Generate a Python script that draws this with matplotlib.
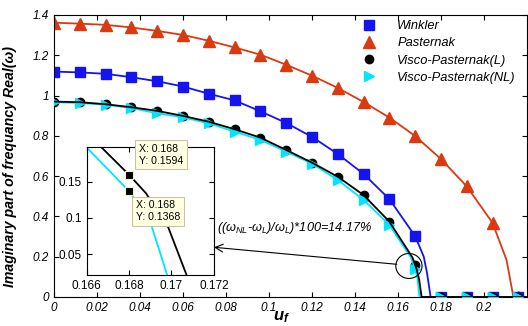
import numpy as np
import matplotlib
matplotlib.use('Agg')
import matplotlib.pyplot as plt
from matplotlib.patches import Ellipse
from matplotlib.lines import Line2D
from matplotlib.ticker import FuncFormatter

plt.rcParams['font.family'] = ['Liberation Sans', 'DejaVu Sans']
plt.rcParams['mathtext.fontset'] = 'custom'
plt.rcParams['mathtext.rm'] = 'Liberation Sans:italic'
plt.rcParams['mathtext.it'] = 'Liberation Sans:italic'
plt.rcParams['mathtext.bf'] = 'Liberation Sans:bold:italic'

# marker positions (u_f)
uf = [0.0, 0.012, 0.024, 0.036, 0.048, 0.060, 0.072, 0.084, 0.096, 0.108,
      0.120, 0.132, 0.144, 0.156, 0.168, 0.180, 0.192, 0.204, 0.216]

winkler = [1.119, 1.115, 1.108, 1.091, 1.071, 1.045, 1.009, 0.976, 0.922, 0.864,
           0.795, 0.710, 0.611, 0.486, 0.302, 0.0, 0.0, 0.0, 0.0]
pasternak = [1.362, 1.357, 1.351, 1.338, 1.321, 1.301, 1.272, 1.239, 1.203, 1.153,
             1.099, 1.038, 0.968, 0.891, 0.799, 0.685, 0.549, 0.368, 0.0]
visco_l = [0.970, 0.967, 0.957, 0.942, 0.924, 0.899, 0.870, 0.833, 0.791, 0.730,
           0.667, 0.597, 0.506, 0.374, 0.1594, 0.0, 0.0, 0.0, 0.0]
visco_nl = [0.967, 0.963, 0.955, 0.938, 0.912, 0.892, 0.862, 0.821, 0.780, 0.722,
            0.662, 0.581, 0.482, 0.358, 0.1368, 0.0, 0.0, 0.0, 0.0]

# extra points of the curves near the drop to zero
w_tail_x = [0.172, 0.1735, 0.1752, 0.22]
w_tail_y = [0.20, 0.12, 0.0, 0.0]
p_tail_x = [0.2105, 0.2137, 0.22]
p_tail_y = [0.184, 0.0, 0.0]
l_tail_x = [0.1667, 0.168, 0.1688, 0.16985, 0.171, 0.22]
l_tail_y = [0.197, 0.1594, 0.134, 0.0872, 0.0, 0.0]
nl_tail_x = [0.166, 0.168, 0.1690, 0.1698, 0.1700, 0.22]
nl_tail_y = [0.197, 0.1368, 0.095, 0.0215, 0.0, 0.0]

blue = '#1414f0'
red = '#d93a10'
cyan = '#00e5ff'


def curve(x, y, tx, ty):
    xs = [a for a in x if a < tx[0]] + tx
    ys = [b for a, b in zip(x, y) if a < tx[0]] + ty
    return xs, ys


fig = plt.figure(figsize=(5.28, 3.26), dpi=100)
ax = fig.add_axes([0.1023, 0.089, 0.8957, 0.865])

wx, wy = curve(uf, winkler, w_tail_x, w_tail_y)
px, py = curve(uf, pasternak, p_tail_x, p_tail_y)
lx, ly = curve(uf, visco_l, l_tail_x, l_tail_y)
nx, ny = curve(uf, visco_nl, nl_tail_x, nl_tail_y)

ax.plot(px, py, color=red, lw=1.3, zorder=2)
ax.plot(uf, pasternak, ls='none', marker='^', ms=8, color=red, zorder=2)
ax.plot(wx, wy, color=blue, lw=1.3, zorder=2)
ax.plot(uf, winkler, ls='none', marker='s', ms=6.8, color=blue, zorder=2)
ax.plot(uf, visco_l, ls='none', marker='o', ms=6, color='k', zorder=2.5)
ax.plot(nx, ny, color=cyan, lw=1.3, zorder=3)
ax.plot(uf, visco_nl, ls='none', marker='>', ms=7, color=cyan, zorder=3)
ax.plot(lx, ly, color='k', lw=1.3, zorder=4)

ax.set_xlim(0, 0.22)
ax.set_ylim(0, 1.4)
ax.set_xticks(np.arange(0, 0.201, 0.02))
ax.set_yticks(np.arange(0, 1.41, 0.2))
fmt = FuncFormatter(lambda v, p: '%g' % round(v, 4))
ax.xaxis.set_major_formatter(fmt)
ax.yaxis.set_major_formatter(fmt)
ax.tick_params(direction='in', top=True, right=True, length=3.5, labelsize=8.5)
for lab in ax.get_xticklabels() + ax.get_yticklabels():
    lab.set_fontstyle('italic')

ax.set_ylabel('Imaginary part of frequancy Real(ω)', fontsize=10.2,
              fontweight='bold', fontstyle='italic')
ax.yaxis.set_label_coords(-0.078, 0.464)
ax.set_xlabel(r'$\mathbf{u_f}$', fontsize=12, va='center')
ax.xaxis.set_label_coords(0.482, -0.072)

handles = [
    Line2D([], [], ls='none', marker='s', ms=6.8, color=blue),
    Line2D([], [], ls='none', marker='^', ms=8, color=red),
    Line2D([], [], ls='none', marker='o', ms=6, color='k'),
    Line2D([], [], ls='none', marker='>', ms=7, color=cyan),
]
labels = ['Winkler', 'Pasternak', 'Visco-Pasternak(L)', 'Visco-Pasternak(NL)']
leg = fig.legend(handles, labels, loc='upper left', bbox_to_anchor=(0.680, 0.938),
                 frameon=False, handlelength=1.5, handletextpad=1.45,
                 labelspacing=0.4, borderpad=0, borderaxespad=0,
                 prop={'style': 'italic', 'size': 9.3})

# circle and arrow
ax.add_patch(Ellipse((0.1651, 0.154), 0.0122, 0.124, fill=False, lw=0.8,
                     ec='k', zorder=5))
ax.annotate('', xy=(0.0744, 0.2468), xytext=(0.1594, 0.1624),
            arrowprops=dict(arrowstyle='->', lw=0.8, color='k',
                            shrinkA=0, shrinkB=0, mutation_scale=14))
ax.text(0.0757, 0.328, r'(($\omega_{NL}$-$\omega_L$)/$\omega_L$)*100=14.17%',
        fontsize=9.2, fontstyle='italic', va='baseline', ha='left')

# inset zoom
ax_in = fig.add_axes([0.164, 0.156, 0.241, 0.392])
ax_in.plot(nx, ny, color=cyan, lw=1.3)
ax_in.plot(lx, ly, color='k', lw=1.3)
ax_in.set_xlim(0.166, 0.172)
ax_in.set_ylim(0.0215, 0.197)
ax_in.set_xticks([0.166, 0.168, 0.17, 0.172])
ax_in.set_yticks([0.05, 0.1, 0.15])
ax_in.xaxis.set_major_formatter(fmt)
ax_in.yaxis.set_major_formatter(fmt)
ax_in.tick_params(direction='in', top=True, right=True, length=3.5, labelsize=8.5)

tips_x = [0.168, 0.168]
tips_y = [0.1594, 0.1368]
ax_in.plot(tips_x, tips_y, ls='none', marker='s', ms=5.5, mfc='k', mec='#f2eec8',
           mew=0.8, zorder=6)
box = dict(boxstyle='square,pad=0.35', fc='#ffffe1', ec='#c9c3a6', lw=0.8)
ax_in.annotate('X: 0.168\nY: %.4f' % tips_y[0], (tips_x[0], tips_y[0]),
               xytext=(10, 20), textcoords='offset pixels', fontsize=7.6,
               ha='left', va='center', bbox=box, annotation_clip=False, zorder=7)
ax_in.annotate('X: 0.168\nY: %.4f' % tips_y[1], (tips_x[1], tips_y[1]),
               xytext=(7, -20), textcoords='offset pixels', fontsize=7.6,
               ha='left', va='center', bbox=box, annotation_clip=False, zorder=7)

fig.savefig('out.png', dpi=100)
